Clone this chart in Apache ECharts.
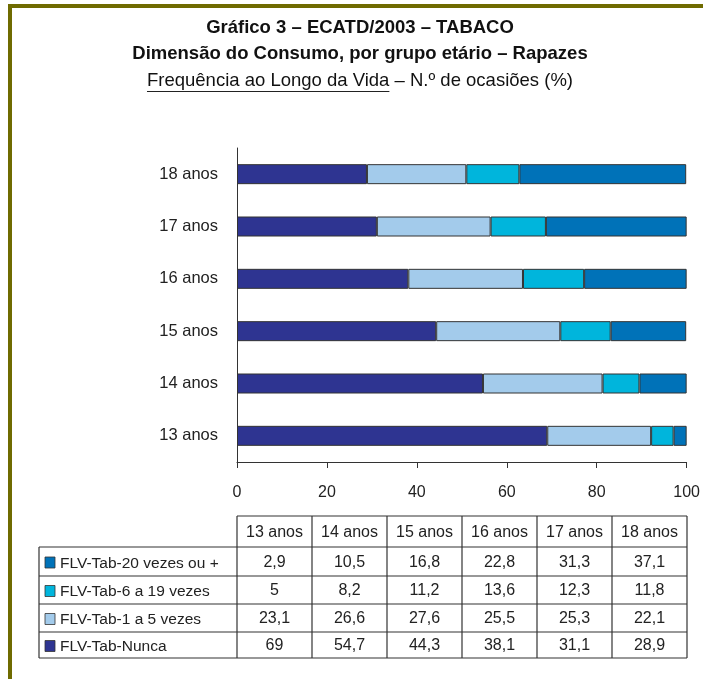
<!DOCTYPE html>
<html><head><meta charset="utf-8">
<script src="https://cdn.jsdelivr.net/npm/echarts@6/dist/echarts.min.js"></script>
<style>html,body{margin:0;padding:0;background:#fff}#c{width:703px;height:679px}</style>
</head><body><div id="c"></div>
<script>
// ---- data ----
const categories = ['13 anos','14 anos','15 anos','16 anos','17 anos','18 anos'];
const nameNunca = 'FLV-Tab-Nunca';
const name1a5 = 'FLV-Tab-1 a 5 vezes';
const name6a19 = 'FLV-Tab-6 a 19 vezes';
const name20 = 'FLV-Tab-20 vezes ou +';
const nunca = [69, 54.7, 44.3, 38.1, 31.1, 28.9];
const v1a5 = [23.1, 26.6, 27.6, 25.5, 25.3, 22.1];
const v6a19 = [5, 8.2, 11.2, 13.6, 12.3, 11.8];
const v20 = [2.9, 10.5, 16.8, 22.8, 31.3, 37.1];
const xTicks = [0, 20, 40, 60, 80, 100];
const titleLine1 = 'Gráfico 3 – ECATD/2003 – TABACO';
const titleLine2 = 'Dimensão do Consumo, por grupo etário – Rapazes';
const subUnder = 'Frequência ao Longo da Vida';
const subRest = ' – N.º de ocasiões (%)';

// ---- styles / layout ----
const colors = {nunca:'#2e3491', a:'#a3cbeb', b:'#00b5dc', c:'#0072b8'};
const FONT = '"Liberation Sans", Arial, Helvetica, sans-serif';
const gridL = 237, gridR = 687, gridT = 148, gridB = 462;

const chart = echarts.init(document.getElementById('c'), null, {renderer:'canvas'});

function fmt(v){ return String(v).replace('.', ','); }
const mctx = document.createElement('canvas').getContext('2d');
function tw(t, f){ mctx.font = f; return mctx.measureText(t).width; }

const g = [];
// olive frame
g.push({type:'rect', shape:{x:8,y:4,width:4,height:679}, style:{fill:'#6f6b00'}, silent:true});
g.push({type:'rect', shape:{x:8,y:4,width:695,height:4}, style:{fill:'#6f6b00'}, silent:true});
// titles
const cx = 360;
g.push({type:'text', x:cx, y:28, style:{text:titleLine1, font:'bold 18.5px '+FONT, fill:'#111', align:'center', verticalAlign:'middle'}});
g.push({type:'text', x:cx, y:54, style:{text:titleLine2, font:'bold 18.5px '+FONT, fill:'#111', align:'center', verticalAlign:'middle'}});
const subFont = '18.5px ' + FONT;
const wU = tw(subUnder, subFont), wR = tw(subRest, subFont);
const sx = cx - (wU + wR) / 2;
g.push({type:'text', x:sx, y:81, style:{text:subUnder, font:subFont, fill:'#111', align:'left', verticalAlign:'middle'}});
g.push({type:'text', x:sx+wU, y:81, style:{text:subRest, font:subFont, fill:'#111', align:'left', verticalAlign:'middle'}});
g.push({type:'line', shape:{x1:sx, y1:91.5, x2:sx+wU, y2:91.5}, style:{stroke:'#222', lineWidth:1}});

// data table
const tblL = 39, colW = (gridR - gridL) / categories.length;
const rowY = [516, 547, 576, 604, 632, 658];
const lineStyle = {stroke:'#333', lineWidth:1.2};
g.push({type:'line', shape:{x1:gridL, y1:rowY[0], x2:gridR, y2:rowY[0]}, style:lineStyle});
for (let i = 1; i < rowY.length; i++) g.push({type:'line', shape:{x1:tblL, y1:rowY[i], x2:gridR, y2:rowY[i]}, style:lineStyle});
g.push({type:'line', shape:{x1:tblL, y1:rowY[1], x2:tblL, y2:rowY[5]}, style:lineStyle});
for (let j = 0; j <= categories.length; j++) g.push({type:'line', shape:{x1:gridL+j*colW, y1:rowY[0], x2:gridL+j*colW, y2:rowY[5]}, style:lineStyle});
const cellFont = '16px ' + FONT;
categories.forEach((c, j) => {
  g.push({type:'text', x:gridL+(j+0.5)*colW, y:(rowY[0]+rowY[1])/2+1, style:{text:c, font:cellFont, fill:'#222', align:'center', verticalAlign:'middle'}});
});
const tableRows = [
  {name:name20, vals:v20, color:colors.c},
  {name:name6a19, vals:v6a19, color:colors.b},
  {name:name1a5, vals:v1a5, color:colors.a},
  {name:nameNunca, vals:nunca, color:colors.nunca}
];
tableRows.forEach((r, i) => {
  const yc = (rowY[i+1] + rowY[i+2]) / 2 + 1;
  g.push({type:'rect', shape:{x:45, y:yc-5.5, width:10, height:11}, style:{fill:r.color, stroke:'#333', lineWidth:0.8}});
  g.push({type:'text', x:60, y:yc+1, style:{text:r.name, font:'15.5px '+FONT, fill:'#222', align:'left', verticalAlign:'middle'}});
  r.vals.forEach((v, j) => {
    g.push({type:'text', x:gridL+(j+0.5)*colW, y:yc, style:{text:fmt(v), font:cellFont, fill:'#222', align:'center', verticalAlign:'middle'}});
  });
});

function barSeries(name, data, color){
  return {name, type:'bar', stack:'t', data, barWidth:20,
    itemStyle:{color, borderColor:'#333', borderWidth:1}, emphasis:{disabled:true}};
}

chart.setOption({
  animation:false,
  backgroundColor:'#fff',
  grid:{left:gridL, right:703-gridR, top:gridT, bottom:679-gridB, containLabel:false},
  xAxis:{type:'value', min:xTicks[0], max:xTicks[xTicks.length-1], interval:xTicks[1]-xTicks[0],
    axisLine:{show:true, lineStyle:{color:'#333', width:1}},
    axisTick:{show:true, length:6, lineStyle:{color:'#333'}},
    splitLine:{show:false},
    axisLabel:{fontSize:16, fontFamily:FONT, color:'#222', margin:23}},
  yAxis:{type:'category', data:categories,
    axisLine:{show:true, lineStyle:{color:'#333', width:1}},
    axisTick:{show:false},
    axisLabel:{fontSize:16.5, fontFamily:FONT, color:'#222', margin:19}},
  series:[
    barSeries(nameNunca, nunca, colors.nunca),
    barSeries(name1a5, v1a5, colors.a),
    barSeries(name6a19, v6a19, colors.b),
    barSeries(name20, v20, colors.c)
  ],
  graphic:{elements:g}
});
</script></body></html>
